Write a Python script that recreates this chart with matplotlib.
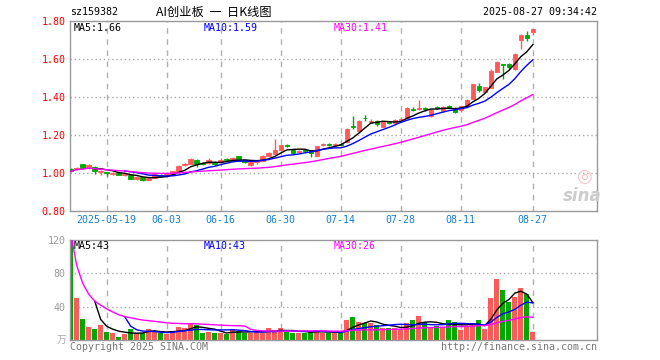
import numpy as np
import pandas as pd
import matplotlib
matplotlib.use("Agg")
import matplotlib.pyplot as plt

# daily candles (first bar is index 0)
opens = [1.022, 1.020, 1.047, 1.025, 1.033, 1.004, 1.003, 0.994, 1.000, 0.990,
         0.991, 0.969, 0.977, 0.965, 0.976, 0.991, 0.984, 0.990, 1.006, 1.042,
         1.048, 1.070, 1.053, 1.052, 1.060, 1.056, 1.072, 1.063, 1.088, 1.067,
         1.040, 1.056, 1.065, 1.088, 1.100, 1.123, 1.148, 1.123, 1.110, 1.120,
         1.119, 1.092, 1.146, 1.154, 1.148, 1.153, 1.165, 1.245, 1.223, 1.292,
         1.270, 1.273, 1.243, 1.268, 1.265, 1.280, 1.287, 1.338, 1.335, 1.342,
         1.298, 1.345, 1.326, 1.352, 1.344, 1.334, 1.352, 1.390, 1.458, 1.428,
         1.450, 1.534, 1.574, 1.573, 1.548, 1.698, 1.727, 1.742]
highs = [1.026, 1.032, 1.050, 1.046, 1.036, 1.014, 1.005, 1.004, 1.003, 0.998,
         0.993, 0.983, 0.980, 0.975, 0.996, 0.994, 0.998, 1.012, 1.042, 1.052,
         1.080, 1.074, 1.058, 1.081, 1.063, 1.081, 1.078, 1.085, 1.090, 1.070,
         1.060, 1.068, 1.095, 1.108, 1.177, 1.150, 1.155, 1.126, 1.122, 1.125,
         1.121, 1.142, 1.160, 1.160, 1.158, 1.158, 1.236, 1.300, 1.280, 1.306,
         1.285, 1.278, 1.270, 1.275, 1.282, 1.292, 1.345, 1.348, 1.385, 1.350,
         1.338, 1.352, 1.352, 1.360, 1.348, 1.352, 1.389, 1.470, 1.476, 1.455,
         1.550, 1.588, 1.576, 1.580, 1.630, 1.730, 1.745, 1.758]
lows = [1.005, 1.016, 1.020, 1.022, 0.993, 0.990, 0.982, 0.990, 0.988, 0.984,
        0.966, 0.965, 0.958, 0.962, 0.974, 0.978, 0.982, 0.988, 1.004, 1.036,
        1.045, 1.031, 1.044, 1.048, 1.042, 1.052, 1.062, 1.060, 1.066, 1.052,
        1.036, 1.050, 1.062, 1.085, 1.098, 1.120, 1.138, 1.100, 1.104, 1.110,
        1.083, 1.090, 1.140, 1.142, 1.144, 1.140, 1.160, 1.232, 1.220, 1.276,
        1.265, 1.250, 1.240, 1.258, 1.262, 1.276, 1.285, 1.325, 1.330, 1.325,
        1.294, 1.335, 1.322, 1.340, 1.318, 1.320, 1.348, 1.388, 1.427, 1.425,
        1.448, 1.530, 1.494, 1.550, 1.544, 1.653, 1.697, 1.727]
closes = [1.008, 1.028, 1.024, 1.042, 1.010, 1.008, 0.999, 1.000, 0.992, 0.994,
          0.970, 0.980, 0.963, 0.972, 0.993, 0.982, 0.996, 1.008, 1.038, 1.047,
          1.076, 1.045, 1.050, 1.066, 1.046, 1.070, 1.069, 1.081, 1.070, 1.056,
          1.056, 1.062, 1.092, 1.106, 1.119, 1.146, 1.144, 1.104, 1.115, 1.116,
          1.104, 1.140, 1.151, 1.150, 1.153, 1.147, 1.232, 1.240, 1.275, 1.288,
          1.275, 1.256, 1.268, 1.265, 1.278, 1.286, 1.340, 1.333, 1.340, 1.336,
          1.334, 1.340, 1.349, 1.346, 1.323, 1.350, 1.386, 1.466, 1.437, 1.452,
          1.538, 1.582, 1.568, 1.556, 1.627, 1.727, 1.712, 1.756]
# volume, in 万
volumes = [128, 51, 25, 16, 13, 18, 10, 8, 4, 7,
           13, 9, 9, 13, 11, 8, 7, 11, 16, 14,
           20, 18, 8, 10, 9, 8, 7, 13, 11, 9,
           9, 11, 9, 14, 10, 14, 10, 9, 9, 9,
           10, 12, 9, 8, 8, 8, 24, 28, 22, 20,
           20, 18, 15, 15, 15, 12, 20, 24, 29, 22,
           14, 17, 16, 24, 22, 12, 17, 20, 24, 13,
           50, 73, 60, 46, 52, 62, 55, 10]

tick_pos = [6, 16, 25, 35, 45, 55, 65, 77]
tick_labels = ["2025-05-19", "06-03", "06-16", "06-30", "07-14", "07-28", "08-11", "08-27"]

RED = "#ff5a5a"
GREEN = "#00a800"
MONO = "DejaVu Sans Mono"
CJK = ["Noto Sans CJK SC", "DejaVu Sans"]

o = np.array(opens)
h = np.array(highs)
l = np.array(lows)
c = np.array(closes)
x = np.arange(len(c))
colors = np.where(c >= o, RED, GREEN)

fig = plt.figure(figsize=(6.6, 3.6), dpi=100)
ax = fig.add_axes([70 / 660, 1 - 211 / 360, 527 / 660, 190 / 360])
axv = fig.add_axes([70 / 660, 1 - 340 / 360, 527 / 660, 100 / 360])

for a in (ax, axv):
    a.set_xlim(-0.12, 87.7)
    for s in a.spines.values():
        s.set_color("#999999")
        s.set_linewidth(1)
    a.tick_params(length=0)
    for p in tick_pos:
        a.axvline(p, color="#b0b0b0", lw=1, ls=(0, (4, 4)), zorder=0)

# price panel
ax.set_ylim(0.80, 1.80)
for yv in [1.0, 1.2, 1.4, 1.6]:
    ax.axhline(yv, color="#aaaaaa", lw=1, ls=(0, (1, 2)), zorder=0)
ax.vlines(x, l, h, colors=colors, lw=1, zorder=2)
ax.bar(x, np.maximum(np.abs(c - o), 0.002), bottom=np.minimum(o, c), width=0.75,
       color=colors, edgecolor=colors, linewidth=0.6, zorder=3)

cs = pd.Series(c)
ax.plot(x, cs.rolling(5).mean(), color="black", lw=1, zorder=4)
ax.plot(x, cs.rolling(10).mean(), color="#0000ff", lw=1, zorder=4)
ax.plot(x, cs.rolling(30, min_periods=1).mean(), color="#ff00ff", lw=1, zorder=4)

ax.set_yticks([0.8, 1.0, 1.2, 1.4, 1.6, 1.8])
ax.set_yticklabels(["%.2f" % v for v in [0.8, 1.0, 1.2, 1.4, 1.6, 1.8]],
                   color="red", family=MONO, fontsize=7.2)
ax.set_xticks(tick_pos)
ax.set_xticklabels(tick_labels, color="#1a7dd0", family=MONO, fontsize=7.2)
ax.tick_params(axis="x", pad=3)
ax.tick_params(axis="y", pad=3)

# volume panel
axv.set_ylim(0, 120)
for yv in [40, 80]:
    axv.axhline(yv, color="#aaaaaa", lw=1, ls=(0, (1, 2)), zorder=0)
axv.bar(x, volumes, width=0.8, color=colors, zorder=2)
vs = pd.Series(volumes, dtype=float)
axv.plot(x, vs.rolling(5).mean(), color="black", lw=1, zorder=4)
axv.plot(x, vs.rolling(10).mean(), color="#0000ff", lw=1, zorder=4)
axv.plot(x, vs.rolling(30, min_periods=1).mean(), color="#ff00ff", lw=1, zorder=4)
axv.set_yticks([40, 80, 120])
axv.set_yticklabels(["40", "80", "120"], color="#999999", family=MONO, fontsize=7.2)
axv.set_xticks(tick_pos)
axv.set_xticklabels([])
axv.tick_params(axis="y", pad=3)

# texts
fig.text(70 / 660, 1 - 12 / 360, "sz159382", family=MONO, fontsize=7.2, va="center")
fig.text(214 / 660, 1 - 12 / 360, "AI创业板  一  日K线图", family=CJK, fontsize=8.8,
         ha="center", va="center")
fig.text(597 / 660, 1 - 12 / 360, "2025-08-27 09:34:42", family=MONO, fontsize=7.2,
         ha="right", va="center")

fig.text(74 / 660, 1 - 28 / 360, "MA5:1.66", family=MONO, fontsize=7.2, va="center")
fig.text(204 / 660, 1 - 28 / 360, "MA10:1.59", family=MONO, fontsize=7.2, va="center",
         color="#0000ff")
fig.text(334 / 660, 1 - 28 / 360, "MA30:1.41", family=MONO, fontsize=7.2, va="center",
         color="#ff00ff")

fig.text(74 / 660, 1 - 246 / 360, "MA5:43", family=MONO, fontsize=7.2, va="center")
fig.text(204 / 660, 1 - 246 / 360, "MA10:43", family=MONO, fontsize=7.2, va="center",
         color="#0000ff")
fig.text(334 / 660, 1 - 246 / 360, "MA30:26", family=MONO, fontsize=7.2, va="center",
         color="#ff00ff")

fig.text(66 / 660, 1 - 340 / 360, "万", family=CJK, fontsize=7, ha="right", va="center",
         color="#aaaaaa")
fig.text(70 / 660, 1 - 347 / 360, "Copyright 2025 SINA.COM", family=MONO, fontsize=7.2,
         va="center", color="#777777")
fig.text(597 / 660, 1 - 347 / 360, "http://finance.sina.com.cn", family=MONO,
         fontsize=7.2, ha="right", va="center", color="#777777")

# faint sina watermark
fig.text(584 / 660, 1 - 177 / 360, "◎", fontsize=13, ha="center", va="center",
         color="#f2c4c4")
fig.text(582 / 660, 1 - 196 / 360, "sina", fontsize=12, fontweight="bold", style="italic",
         ha="center", va="center", color="#cccccc")

fig.savefig("out.png", dpi=100)
